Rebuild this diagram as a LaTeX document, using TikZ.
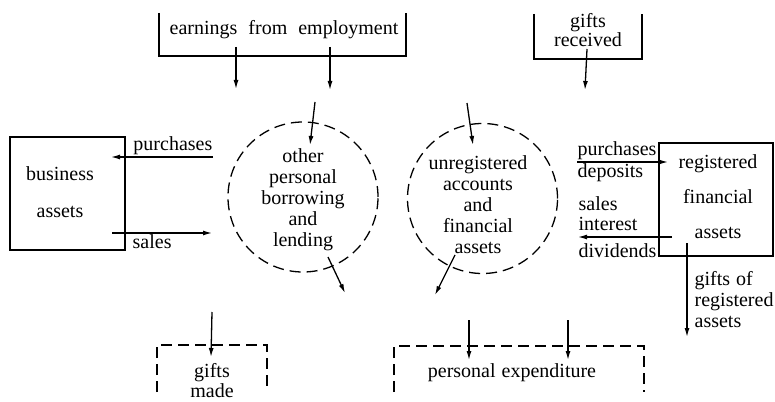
\documentclass[tikz,border=0pt]{standalone}
\usepackage{fontspec}
\setmainfont{Liberation Serif}
\usetikzlibrary{arrows.meta}

\begin{document}
\begin{tikzpicture}[x=1pt, y=-1pt, line width=1.3pt,
  font=\fontsize{20}{21}\selectfont,
  flow/.style={-{Latex[length=9pt,width=5pt]}},
  brk/.style={dash pattern=on 11pt off 6pt},
  pool/.style={draw, circle, brk, minimum size=150pt, inner sep=0pt},
  txt/.style={inner sep=0pt, align=center}]
  \useasboundingbox (0,0) rectangle (775,401);
  % sources at the top
  \draw (159,13) -- (159,56) -- (406,56) -- (406,13);
  \node[txt, anchor=base] (earn) at (284,35) {earnings\hspace{11pt}from\hspace{11pt}employment};
  \draw (534,14) -- (534,59) -- (642,59) -- (642,14);
  \node[txt] (recv) at (588,30) {gifts\\[-2pt]received};
  % business assets
  \node[draw, minimum width=115pt, minimum height=113pt] (bus) at (67.5,193.5) {};
  \node[txt] (bustxt) at (60,192) {business\\[16pt]assets};
  % registered financial assets
  \node[draw, minimum width=114pt, minimum height=113pt] (reg) at (716,199.5) {};
  \node[txt] (regtxt) at (718,197) {registered\\[14pt]financial\\[14pt]assets};
  % the two pools
  \node[pool] (borrow) at (303,197) {};
  \node[txt] (borrowtxt) at (303,200) {other\\personal\\borrowing\\and\\lending};
  \node[pool] (unreg) at (482.5,198.5) {};
  \node[txt] (unregtxt) at (478,205) {unregistered\\accounts\\and\\financial\\assets};
  % sinks at the bottom
  \draw[brk] (157,392) -- (157,345) -- (267,345) -- (267,392);
  \node[txt] (made) at (212,381) {gifts\\[-1pt]made};
  \draw[brk] (394,392) -- (394,346) -- (644,346) -- (644,392);
  \node[txt, anchor=base] (spend) at (512,377) {personal\hspace{6pt}expenditure};
  % flow labels
  \node[txt, anchor=base east] (buy) at (213,150) {purchases};
  \node[txt, anchor=base west] (sell) at (132,248) {sales};
  \node[txt, anchor=base west] (buyreg) at (577,155) {purchases};
  \node[txt, anchor=base west] (depo) at (577,177) {deposits};
  \node[txt, anchor=base west] (sellreg) at (578,210) {sales};
  \node[txt, anchor=base west] (intr) at (578,230) {interest};
  \node[txt, anchor=base west] (divd) at (578,257) {dividends};
  \node[txt, anchor=north west, align=left] (giftreg) at (694,271) {gifts\hspace{6pt}of\\registered\\assets};
  % arrow ends
  \coordinate (earnA) at (236,47);   \coordinate (earnAe) at (236,89);
  \coordinate (earnB) at (330,47);   \coordinate (earnBe) at (330,90);
  \coordinate (recvA) at (587,49);   \coordinate (recvAe) at (585,90);
  \coordinate (borIn) at (315,102);  \coordinate (borIne) at (310,145);
  \coordinate (unrIn) at (467,103);  \coordinate (unrIne) at (473,145);
  \coordinate (borOut) at (328,257); \coordinate (borOute) at (345,293);
  \coordinate (unrOut) at (455,255); \coordinate (unrOute) at (435,295);
  \coordinate (madeIn) at (212,312); \coordinate (madeIne) at (211,357);
  \coordinate (spendA) at (469,320); \coordinate (spendAe) at (469,360);
  \coordinate (spendB) at (568,320); \coordinate (spendBe) at (568,360);
  \coordinate (buyA) at (213,157);   \coordinate (buyAe) at (111,157);
  \coordinate (sellA) at (112,233);  \coordinate (sellAe) at (212,233);
  \coordinate (depA) at (577,162);   \coordinate (depAe) at (668,162);
  \coordinate (divA) at (672,237);   \coordinate (divAe) at (578,237);
  \coordinate (grA) at (687,243);    \coordinate (grAe) at (687,337);
  % flows
  \foreach \a in {earnA,earnB,recvA,borIn,unrIn,borOut,unrOut,madeIn,spendA,spendB,buyA,sellA,depA,divA,grA}
    \draw[flow] (\a) -- (\a e);
\end{tikzpicture}
\end{document}
